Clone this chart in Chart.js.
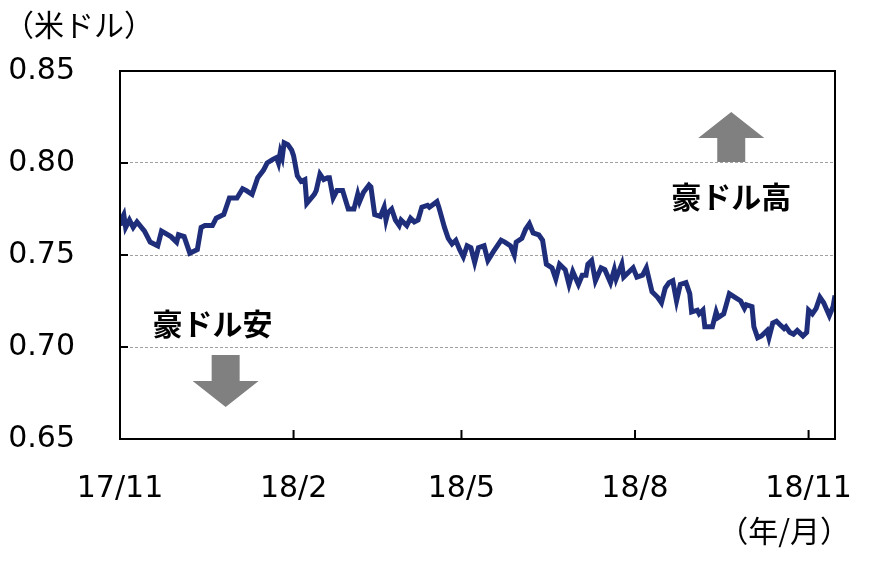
<!DOCTYPE html>
<html lang="ja">
<head>
<meta charset="UTF-8">
<title>豪ドル相場</title>
<style>
    * { margin: 0; padding: 0; box-sizing: border-box; }
    body { background: #fff; width: 870px; height: 561px; overflow: hidden; }
</style>
</head>
<body>
<canvas id="chart" width="870" height="561"></canvas>

<script src="https://cdn.jsdelivr.net/npm/chart.js"></script>
<script>
// days since 2017/11/01
const days = [
    0, 1, 2, 3, 5, 7, 9, 13, 16, 20,
    22, 27, 30, 31, 34, 37, 41, 43, 45, 49,
    51, 55, 58, 62, 65, 67, 70, 73, 76, 78,
    81, 83, 84, 85, 86, 87, 89, 91, 92, 94,
    96, 98, 99, 103, 104, 106, 108, 110, 111, 113,
    115, 118, 121, 124, 126, 127, 129, 132, 133, 135,
    138, 140, 141, 142, 144, 146, 148, 149, 152, 154,
    156, 158, 160, 163, 164, 168, 169, 172, 174, 176,
    178, 180, 182, 184, 186, 188, 190, 193, 195, 198,
    202, 204, 207, 209, 210, 213, 215, 217, 219, 222,
    224, 226, 229, 231, 233, 236, 238, 240, 243, 245,
    247, 248, 250, 252, 255, 257, 260, 262, 263, 266,
    267, 270, 272, 274, 277, 279, 282, 285, 287, 289,
    291, 293, 295, 297, 300, 302, 303, 306, 307, 309,
    310, 314, 316, 317, 320, 323, 326, 329, 331, 332,
    335, 336, 338, 340, 343, 344, 346, 348, 350, 352,
    353, 355, 357, 359, 361, 362, 364, 365, 367, 369,
    371, 373, 376, 378, 379
];
// AUD/USD
const rates = [
    .766, .770, .772, .765, .769, .765, .768, .763, .757, .755,
    .763, .760, .757, .761, .760, .751, .753, .765, .766, .766,
    .770, .772, .781, .781, .786, .785, .783, .792, .796, .800,
    .802, .803, .800, .806, .803, .811, .810, .807, .804, .793,
    .790, .791, .778, .783, .785, .794, .791, .792, .792, .781,
    .785, .785, .775, .775, .783, .779, .784, .788, .787, .772,
    .771, .776, .769, .773, .775, .769, .766, .769, .766, .770,
    .768, .769, .776, .777, .776, .779, .776, .765, .759, .756,
    .758, .753, .749, .755, .754, .746, .754, .755, .747, .752,
    .758, .757, .755, .750, .757, .759, .764, .767, .762, .761,
    .758, .745, .743, .737, .745, .742, .734, .741, .734, .739,
    .739, .745, .747, .736, .743, .742, .735, .742, .737, .745,
    .738, .741, .743, .738, .739, .743, .730, .727, .724, .732,
    .735, .736, .725, .734, .735, .729, .719, .720, .718, .720,
    .711, .711, .719, .716, .718, .729, .727, .725, .721, .723,
    .722, .711, .705, .706, .709, .705, .713, .714, .712, .710,
    .711, .708, .707, .709, .707, .706, .708, .720, .718, .721,
    .727, .724, .717, .722, .728
];

const tickDays = [0, 92, 181, 273, 365];
const tickLabels = ['17/11', '18/2', '18/5', '18/8', '18/11'];
const yMin = 0.65, yMax = 0.85, yStep = 0.05;

const unitLabel = '（米ドル）';
const periodLabel = '（年/月）';
// notes placed in data space: [day, rate]
const notes = [
    { text: '豪ドル高', day: 324, rate: 0.782 },
    { text: '豪ドル安', day: 49, rate: 0.7125 }
];
const arrows = [
    { day: 324, from: 0.8005, to: 0.8277 },
    { day: 56, from: 0.6957, to: 0.6674 }
];

const numFont = "'DejaVu Sans', Verdana, sans-serif";
const jpFont = "'Noto Sans CJK JP', sans-serif";

function drawArrow(ctx, px, yTail, yTip) {
    const dir = yTip < yTail ? -1 : 1;
    const head = 26, shaft = 14, wing = 33;
    const yBase = yTip - dir * head;
    ctx.beginPath();
    ctx.moveTo(px - shaft, yTail);
    ctx.lineTo(px - shaft, yBase);
    ctx.lineTo(px - wing, yBase);
    ctx.lineTo(px, yTip);
    ctx.lineTo(px + wing, yBase);
    ctx.lineTo(px + shaft, yBase);
    ctx.lineTo(px + shaft, yTail);
    ctx.closePath();
    ctx.fill();
}

const decorations = {
    id: 'decorations',
    afterDraw(chart) {
        const { ctx, chartArea: a, scales: { x, y } } = chart;
        ctx.save();

        // frame
        ctx.strokeStyle = '#000';
        ctx.lineWidth = 2;
        ctx.strokeRect(a.left, a.top, a.right - a.left, a.bottom - a.top);

        // inward tick marks
        ctx.beginPath();
        y.ticks.forEach(t => {
            const py = y.getPixelForValue(t.value);
            ctx.moveTo(a.left, py);
            ctx.lineTo(a.left + 8, py);
        });
        tickDays.forEach(d => {
            const px = x.getPixelForValue(d);
            ctx.moveTo(px, a.bottom);
            ctx.lineTo(px, a.bottom - 9);
        });
        ctx.stroke();

        // arrows
        ctx.fillStyle = '#808080';
        arrows.forEach(ar => {
            drawArrow(ctx, x.getPixelForValue(ar.day),
                y.getPixelForValue(ar.from), y.getPixelForValue(ar.to));
        });

        // notes
        ctx.fillStyle = '#000';
        ctx.textAlign = 'center';
        ctx.textBaseline = 'middle';
        ctx.font = 'bold 30px ' + jpFont;
        notes.forEach(n => {
            ctx.fillText(n.text, x.getPixelForValue(n.day), y.getPixelForValue(n.rate));
        });

        // unit labels
        ctx.font = '30px ' + jpFont;
        ctx.textAlign = 'left';
        ctx.fillText(unitLabel, 4, 25);
        ctx.textAlign = 'right';
        ctx.fillText(periodLabel, 850, 531);

        ctx.restore();
    }
};

new Chart(document.getElementById('chart'), {
    type: 'line',
    data: {
        datasets: [{
            data: days.map((d, i) => ({ x: d, y: rates[i] })),
            borderColor: '#1f2e7a',
            borderWidth: 5,
            pointRadius: 0,
            tension: 0,
            fill: false
        }]
    },
    options: {
        responsive: false,
        animation: false,
        layout: { padding: { top: 71, right: 35, left: 0, bottom: 0 } },
        plugins: {
            legend: { display: false },
            tooltip: { enabled: false }
        },
        scales: {
            x: {
                type: 'linear',
                min: 0,
                max: 379,
                afterBuildTicks: s => { s.ticks = tickDays.map(v => ({ value: v })); },
                afterFit: s => { s.height = 122; s.paddingLeft = 0; s.paddingRight = 0; },
                ticks: {
                    callback: (v, i) => tickLabels[i],
                    font: { family: numFont, size: 30 },
                    color: '#000',
                    padding: 24,
                    maxRotation: 0,
                    autoSkip: false
                },
                grid: { display: false },
                border: { display: false }
            },
            y: {
                min: yMin,
                max: yMax,
                afterFit: s => { s.width = 120; },
                ticks: {
                    stepSize: yStep,
                    callback: v => v.toFixed(2),
                    font: { family: numFont, size: 30 },
                    color: '#000',
                    padding: 45
                },
                grid: { color: '#a0a0a0', lineWidth: 1, drawTicks: false },
                border: { display: false, dash: [3, 2] }
            }
        }
    },
    plugins: [decorations]
});
</script>
</body>
</html>
